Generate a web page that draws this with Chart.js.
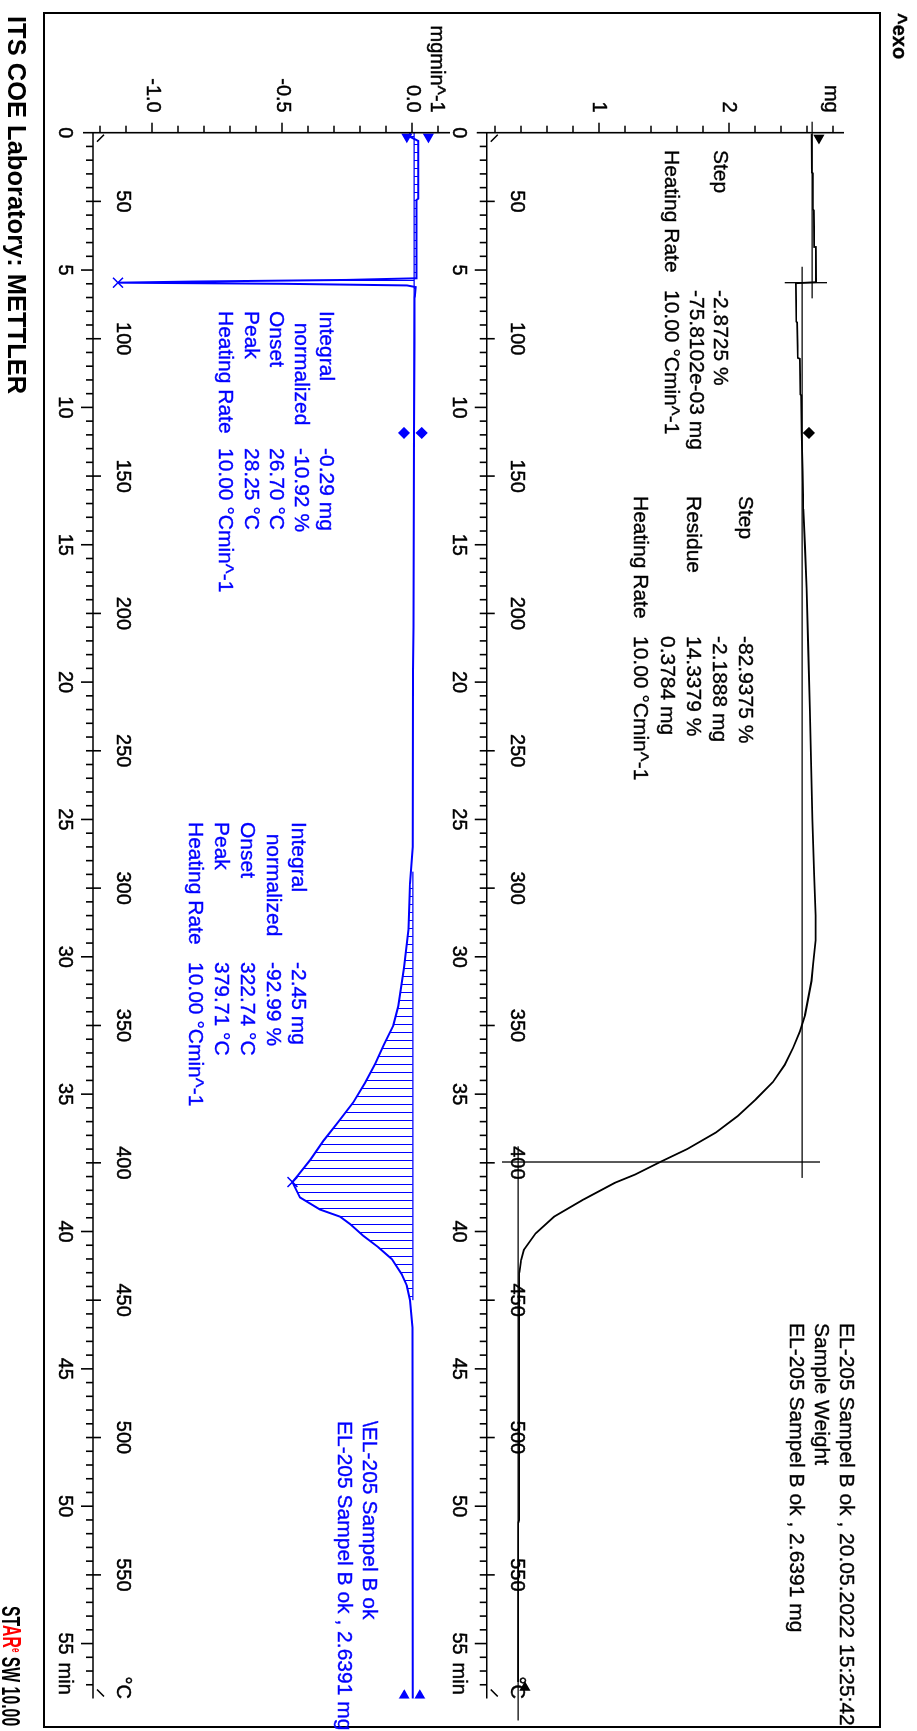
<!DOCTYPE html>
<html>
<head>
<meta charset="utf-8">
<title>EL-205 Sampel B ok</title>
<script src="https://cdn.jsdelivr.net/npm/chart.js@4.4.1/dist/chart.umd.min.js"></script>
<style>
html, body { margin: 0; padding: 0; background: #fff; }
body { width: 917px; height: 1731px; overflow: hidden; position: relative; }
/* the sheet is laid out landscape and turned a quarter turn */
#sheet { position: absolute; left: 0; top: 0; width: 1731px; height: 917px;
  transform-origin: 0 0; transform: translate(917px, 0) rotate(90deg);
  font-family: "Liberation Sans", Arial, sans-serif; color: #000; background: #fff; }
#sheet canvas { position: absolute; left: 0; top: 0; }
#frame { position: absolute; left: 12px; top: 36px; width: 1716px; height: 838px;
  border: 2px solid #000; box-sizing: border-box; }
.t { position: absolute; white-space: pre; font-size: 21px; line-height: 21px;
  -webkit-text-stroke: 0.35px currentColor; }
.blue { color: #0000ff; }
.head { font-size: 25.5px; line-height: 25.5px; font-weight: bold; -webkit-text-stroke: 0; }
.narrow { transform: scaleX(0.62); transform-origin: 0 50%; }
.red { color: #ff0000; }
</style>
</head>
<body>
<div id="sheet">
  <div id="frame"></div>
  <canvas id="tga" width="1731" height="917"></canvas>
  <canvas id="dsc" width="1731" height="917"></canvas>
</div>
<script>
// program: 25 °C start, 10 °C/min
const startTemp = 25;
const heatingRate = 10;

const timeLabels = [0, 5, 10, 15, 20, 25, 30, 35, 40, 45, 50, 55];
const tempLabels = [50, 100, 150, 200, 250, 300, 350, 400, 450, 500, 550];
const massLabels = [1, 2];
const rateLabels = [-1.0, -0.5, 0.0];

// TGA curve, mg vs min
const tgaTime = [0.05, 1.45, 1.48, 2.80, 2.83, 4.13, 4.16, 5.44, 5.48, 6.88, 6.91, 8.20, 8.23, 9.53, 9.56,
  10.92, 12.28, 13.70, 15.10, 16.60, 18.80, 21.00, 23.00, 25.00, 27.00, 28.50, 29.40, 30.26, 30.88,
  31.50, 32.12, 32.72, 33.32, 33.94, 34.56, 35.18, 35.80, 36.40, 37.00, 37.47, 37.93, 38.23, 38.85,
  39.46, 40.07, 40.67, 41.04, 41.50, 43.00, 46.00, 50.50, 50.60, 56.40];
const tgaMass = [2.636, 2.638, 2.646, 2.648, 2.654, 2.656, 2.669, 2.670, 2.515, 2.519, 2.525, 2.530, 2.545, 2.550, 2.556,
  2.559, 2.567, 2.572, 2.585, 2.598, 2.610, 2.622, 2.632, 2.642, 2.655, 2.666, 2.667, 2.648, 2.635,
  2.610, 2.585, 2.545, 2.493, 2.428, 2.338, 2.208, 2.066, 1.898, 1.678, 1.470, 1.276, 1.121, 0.875,
  0.655, 0.512, 0.422, 0.400, 0.388, 0.386, 0.386, 0.386, 0.379, 0.378];

// first derivative, mg/min vs min
const dscTime = [0.00, 0.15, 0.30, 2.40, 2.45, 5.30, 5.36, 5.42, 5.46, 5.50, 5.56, 5.62, 6.00, 10.93,
  18.00, 19.60, 26.00, 27.34, 29.00, 30.40, 31.80, 32.50, 33.20, 33.90, 34.60, 35.30, 36.00, 36.70,
  37.40, 37.93, 38.20, 38.76, 39.20, 39.46, 39.73, 40.16, 40.57, 41.00, 41.55, 41.97, 42.50, 43.50, 57.00];
const dscRate = [-0.008, -0.008, 0.024, 0.024, 0.017, 0.017, -0.250, -0.850, -1.131, -0.500, -0.020, 0.014, 0.010, 0.008,
  0.006, 0.004, 0.003, -0.008, -0.014, -0.031, -0.053, -0.072, -0.108, -0.142, -0.181, -0.226, -0.283, -0.341,
  -0.392, -0.437, -0.460, -0.431, -0.354, -0.277, -0.238, -0.187, -0.130, -0.078, -0.040, -0.020, -0.008, 0.002, 0.003];

// step evaluation
const sampleWeight = 2.6391;
const firstStep = -0.0758102;
const residueMass = 0.3784;
const step1Baseline = [[-0.40, sampleWeight], [6.03, sampleWeight]];
const step2Baseline = [[4.88, sampleWeight + firstStep], [38.05, sampleWeight + firstStep]];
const residueLine = [[36.90, residueMass], [57.80, residueMass]];
const step1Mark = [[5.46, 2.43], [5.46, 2.754]];
const step2Mark = [[37.47, 0.253], [37.47, 2.70]];
const tgaStartMark = [[0.19, 2.692]];
const tgaLimitMark = [[10.93, 2.615]];
const tgaEndMark = [[56.6, 0.43]];

// peak integration
const peak1Range = [0, 10.93];
const peak1Base = 0.008;
const peak2Range = [26.9, 42.5];
const peak2Base = 0.003;
const dscStartMarks = [[0.15, -0.020], [0.15, 0.063]];
const dscLimitMarks = [[10.93, -0.031], [10.93, 0.037]];
const dscEndMarks = [[56.9, -0.030], [56.9, 0.030]];
const dscPeakMarks = [[5.46, -1.131], [38.20, -0.460]];

// result texts
const tgaStep1Names = ['Step', '', 'Heating Rate'];
const tgaStep1Values = ['-2.8725 %', '-75.8102e-03 mg', '10.00 °Cmin^-1'];
const tgaStep2Names = ['Step', '', 'Residue', '', 'Heating Rate'];
const tgaStep2Values = ['-82.9375 %', '-2.1888 mg', '14.3379 %', '0.3784 mg', '10.00 °Cmin^-1'];
const peakNames = ['Integral', '  normalized', 'Onset', 'Peak', 'Heating Rate'];
const peak1Values = ['-0.29 mg', '-10.92 %', '26.70 °C', '28.25 °C', '10.00 °Cmin^-1'];
const peak2Values = ['-2.45 mg', '-92.99 %', '322.74 °C', '379.71 °C', '10.00 °Cmin^-1'];
const tgaLegend = ['EL-205 Sampel B ok , 20.05.2022 15:25:42', 'Sample Weight', 'EL-205 Sampel B ok , 2.6391 mg'];
const dscLegend = ['\\EL-205 Sampel B ok', 'EL-205 Sampel B ok , 2.6391 mg'];

const BLUE = '#0000ff';
const pts = (xs, ys) => xs.map((x, i) => ({ x, y: ys[i] }));
const pairs = arr => arr.map(p => ({ x: p[0], y: p[1] }));
const tToPx = T => (T - startTemp) / heatingRate;

function axesPlugin(spec) {
  return {
    id: 'starAxes',
    afterDatasetsDraw(chart) {
      const { ctx } = chart;
      const x = chart.scales.x, y = chart.scales.y;
      const x0 = x.getPixelForValue(0);
      const x1 = x.getPixelForValue(x.max);
      const ax = y.bottom;
      ctx.save();
      ctx.strokeStyle = '#000';
      ctx.fillStyle = '#000';
      ctx.lineWidth = 1.6;
      ctx.beginPath();
      ctx.moveTo(x0, ax); ctx.lineTo(x1, ax);
      ctx.moveTo(x0, ax + 10); ctx.lineTo(x0, y.top);
      for (let k = 1; k * 0.5 < x.max; k++) {
        const px = x.getPixelForValue(k * 0.5);
        ctx.moveTo(px, ax); ctx.lineTo(px, ax + (k % 10 === 0 ? 12 : 7));
      }
      tempLabels.forEach(T => {
        const px = x.getPixelForValue(tToPx(T));
        ctx.moveTo(px, ax); ctx.lineTo(px, ax - 8);
      });
      for (let k = spec.kFirst; k <= spec.kLast; k++) {
        const py = y.getPixelForValue(k * spec.minor);
        ctx.moveTo(x0, py); ctx.lineTo(x0 - (k % spec.every === 0 ? 10 : 7), py);
      }
      // curve begin / end hooks
      ctx.moveTo(x0 + 9, ax - 4); ctx.lineTo(x0 + 2, ax - 11);
      ctx.moveTo(x1 - 9, ax - 4); ctx.lineTo(x1 - 2, ax - 11);
      ctx.stroke();

      ctx.font = '20px "Liberation Sans", Arial, sans-serif';
      ctx.textBaseline = 'middle';
      ctx.lineWidth = 0.45;
      const label = (s, px, py) => { ctx.fillText(s, px, py); ctx.strokeText(s, px, py); };
      ctx.textAlign = 'center';
      timeLabels.forEach(t => label(String(t), x.getPixelForValue(t), ax + 28));
      tempLabels.forEach(T => label(String(T), x.getPixelForValue(tToPx(T)), ax - 30));
      ctx.textAlign = 'left';
      label('min', x.getPixelForValue(55) + 19, ax + 28);
      label('°C', x.getPixelForValue(55) + 33, ax - 30);
      ctx.textAlign = 'right';
      spec.labels.forEach(v => label(spec.fmt(v), x0 - 20, y.getPixelForValue(v)));
      label(spec.unit, x0 - 20, y.getPixelForValue(spec.unitAt));
      ctx.restore();
    }
  };
}

function lineSet(data, color, width, extra) {
  return Object.assign({ data, borderColor: color, borderWidth: width, pointRadius: 0, fill: false, clip: false }, extra || {});
}
function markSet(data, style, color, rotation, radius) {
  return { data, showLine: false, pointStyle: style, pointRadius: radius, pointRotation: rotation,
    pointBackgroundColor: color, pointBorderColor: color, pointBorderWidth: 1.5, borderColor: color };
}

function baseOptions(pad, yMin, yMax) {
  return {
    responsive: false, animation: false, devicePixelRatio: 1, events: [],
    layout: { padding: pad },
    plugins: { legend: { display: false }, tooltip: { enabled: false } },
    scales: {
      x: { type: 'linear', min: 0, max: 57, display: false },
      y: { type: 'linear', min: yMin, max: yMax, display: false }
    },
    elements: { line: { tension: 0 } }
  };
}

// TGA panel
const tgaSpec = { kFirst: 1, kLast: 14, minor: 0.2, every: 5, labels: massLabels, fmt: v => String(v), unit: 'mg', unitAt: 2.78 };
new Chart(document.getElementById('tga'), {
  type: 'line',
  data: {
    datasets: [
      lineSet(pts(tgaTime, tgaMass), '#000', 1.8),
      lineSet(pairs(step1Baseline), '#000', 1.3),
      lineSet(pairs(step2Baseline), '#000', 1.3),
      lineSet(pairs(residueLine), '#000', 1.3),
      lineSet(pairs(step1Mark), '#000', 1.3),
      lineSet(pairs(step2Mark), '#000', 1.3),
      markSet(pairs(tgaStartMark), 'triangle', '#000', 90, 5),
      markSet(pairs(tgaLimitMark), 'rectRot', '#000', 0, 5),
      markSet(pairs(tgaEndMark), 'triangle', '#000', -90, 5)
    ]
  },
  options: baseOptions({ left: 132.7, right: 32.5, top: 73, bottom: 486.7 }, 0.136, 2.885),
  plugins: [axesPlugin(tgaSpec)]
});

// DTG panel with hatched integrals
const dscCanvas = document.getElementById('dsc');
function hatch(ctx, color, gap) {
  const c = document.createElement('canvas');
  c.width = gap; c.height = 4;
  const g = c.getContext('2d');
  g.fillStyle = color;
  g.fillRect(0, 0, 1, 4);
  return ctx.createPattern(c, 'repeat');
}
const hatchFill = hatch(dscCanvas.getContext('2d'), BLUE, 8);
const dscPoints = pts(dscTime, dscRate);
const inRange = r => dscPoints.filter(p => p.x >= r[0] && p.x <= r[1]);

const dscSpec = { kFirst: -12, kLast: 1, minor: 0.1, every: 5, labels: rateLabels, fmt: v => v.toFixed(1), unit: 'mgmin^-1', unitAt: 0.095 };
new Chart(dscCanvas, {
  type: 'line',
  data: {
    datasets: [
      lineSet(inRange(peak1Range), 'rgba(0,0,0,0)', 0, { fill: { value: peak1Base }, backgroundColor: hatchFill, clip: undefined }),
      lineSet(inRange(peak2Range), 'rgba(0,0,0,0)', 0, { fill: { value: peak2Base }, backgroundColor: hatchFill, clip: undefined }),
      lineSet([{ x: peak1Range[0], y: peak1Base }, { x: peak1Range[1], y: peak1Base }], BLUE, 1.3),
      lineSet([{ x: peak2Range[0], y: peak2Base }, { x: peak2Range[1], y: peak2Base }], BLUE, 1.3),
      lineSet(dscPoints, BLUE, 2),
      markSet(pairs(dscStartMarks), 'triangle', BLUE, 90, 5),
      markSet(pairs(dscLimitMarks), 'rectRot', BLUE, 0, 5),
      markSet(pairs(dscEndMarks), 'triangle', BLUE, -90, 5),
      markSet(pairs(dscPeakMarks), 'crossRot', BLUE, 0, 7)
    ]
  },
  options: baseOptions({ left: 132.7, right: 32.5, top: 467, bottom: 93 }, -1.227, 0.146),
  plugins: [axesPlugin(dscSpec)]
});

// text on the sheet
const sheet = document.getElementById('sheet');
function addText(str, x, yc, cls) {
  const d = document.createElement('div');
  d.className = 't ' + (cls || '');
  d.textContent = str;
  d.style.left = x + 'px';
  d.style.top = (yc - 10.5) + 'px';
  sheet.appendChild(d);
  return d;
}
function addBlock(names, values, x, y, pitch, valueX, cls) {
  names.forEach((s, i) => { if (s) addText(s, x, y + i * pitch, cls); });
  (values || []).forEach((s, i) => { if (s) addText(s, valueX, y + i * pitch, cls); });
}

addBlock(tgaStep1Names, tgaStep1Values, 150, 195, 24.5, 290);
addBlock(tgaStep2Names, tgaStep2Values, 496, 170, 26.25, 636);
addBlock(peakNames, peak1Values, 311, 589, 25.3, 448, 'blue');
addBlock(peakNames, peak2Values, 822, 617, 25.8, 962, 'blue');
addBlock(tgaLegend, null, 1323, 69, 25);
addBlock(dscLegend, null, 1421, 546, 25, 0, 'blue');

const exo = addText('^exo', 13, 17.5);
exo.style.fontWeight = 'bold';
exo.style.fontSize = '20px';

addText('ITS COE Laboratory: METTLER', 16, 898, 'head');
const sw = addText('', 1606, 898, 'head narrow');
sw.innerHTML = 'ST<span class="red">AR<sup style="font-size:13px">e</sup></span> SW 10.00';
</script>
</body>
</html>
